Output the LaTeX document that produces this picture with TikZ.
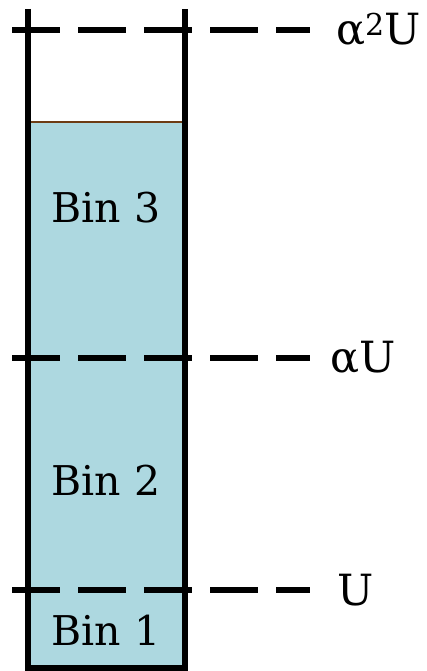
\documentclass[tikz,border=0pt]{standalone}
\usepackage{fontspec}
\setmainfont{DejaVu Serif}
\definecolor{binfill}{RGB}{173,216,224}
\definecolor{binbrown}{RGB}{110,60,20}
\begin{document}
\begin{tikzpicture}[x=1pt,y=1pt,
  wall/.style={line width=6pt,black},
  level/.style={line width=6pt,black,dash pattern=on 48pt off 18pt},
  lbl/.style={font=\fontsize{43}{43}\selectfont,inner sep=0pt},
  binlbl/.style={font=\fontsize{41}{41}\selectfont,inner sep=0pt}]
\useasboundingbox (0,0) rectangle (427,671);
% fill
\fill[binfill] (28,3) rectangle (185,549);
\draw[binbrown,line width=2.5pt] (28,549) -- (185,549);
% dashed levels
\coordinate (l3a) at (12,641); \coordinate (l3b) at (310,641);
\coordinate (l2a) at (12,313); \coordinate (l2b) at (310,313);
\coordinate (l1a) at (12,81);  \coordinate (l1b) at (310,81);
\draw[level] (l3a) -- (l3b);
\draw[level] (l2a) -- (l2b);
\draw[level] (l1a) -- (l1b);
% walls
\coordinate (tl) at (28,662); \coordinate (bl) at (28,3);
\coordinate (br) at (185,3); \coordinate (tr) at (185,662);
\draw[wall,line join=miter] (tl) -- (bl) -- (br) -- (tr);
% labels
\node[lbl,anchor=west] (a2u) at (336,641) {α\textsuperscript{2}U};
\node[lbl,anchor=west] (au) at (330,313) {αU};
\node[lbl,anchor=west] (u) at (337,81) {U};
\node[binlbl] (b3) at (106,463) {Bin 3};
\node[binlbl] (b2) at (106,191) {Bin 2};
\node[binlbl] (b1) at (106,41) {Bin 1};
\end{tikzpicture}
\end{document}
